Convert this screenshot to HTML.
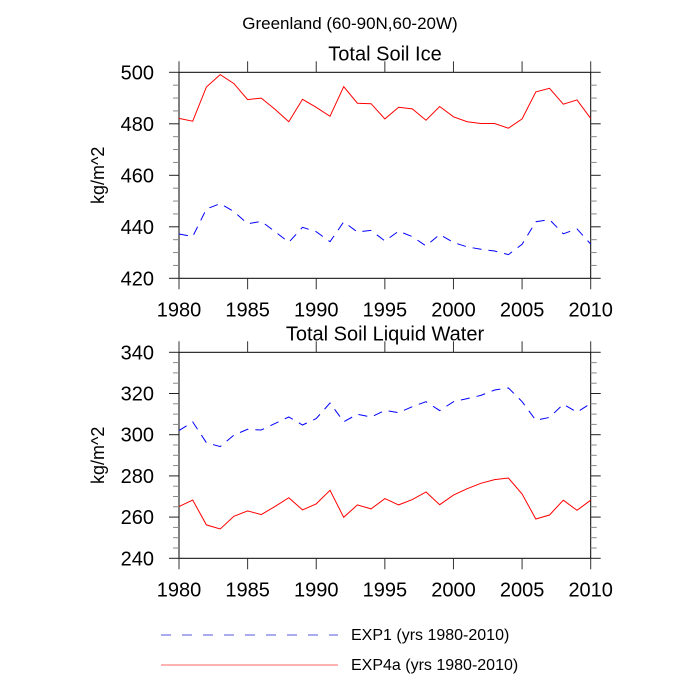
<!DOCTYPE html>
<html><head><meta charset="utf-8"><style>
html,body{margin:0;padding:0;background:#fff;width:700px;height:700px;overflow:hidden}
svg{display:block;font-family:"Liberation Sans",sans-serif}
</style></head><body>
<svg id="chart" width="700" height="700">
<text x="350" y="29" font-size="17" text-anchor="middle">Greenland (60-90N,60-20W)</text>
<g id="p1"></g>
<g id="p2"></g>
<g>
<line x1="161" y1="635" x2="338" y2="635" stroke="#5555dd" stroke-width="1" stroke-dasharray="10,11"/>
<text x="351" y="640" font-size="16">EXP1 (yrs 1980-2010)</text>
<line x1="161" y1="665" x2="338" y2="665" stroke="#ff6666" stroke-width="1"/>
<text x="351" y="670" font-size="16">EXP4a (yrs 1980-2010)</text>
</g>
</svg>
<script>
const years=[1980,1981,1982,1983,1984,1985,1986,1987,1988,1989,1990,1991,1992,1993,1994,1995,1996,1997,1998,1999,2000,2001,2002,2003,2004,2005,2006,2007,2008,2009,2010];
const iceExp4a=[482.1,481,494.3,499.1,495.6,489.4,490,485.6,480.8,489.5,486.4,482.9,494.4,488,487.8,481.9,486.4,485.8,481.4,486.7,482.7,480.8,480.1,480.1,478.3,481.9,492.4,493.8,487.6,489.3,482.1];
const iceExp1=[437.2,436.2,446.9,449,445.9,441.2,442.1,438.1,434,439.8,438.1,434.2,441.9,438,438.6,434.5,438.3,436.2,432.6,437,433.9,432.2,431.3,430.6,429.2,433.2,442,442.8,437.3,439.2,433.3];
const liqExp1=[302,306.2,296.1,294.2,299.8,302.6,302.3,305.5,308.6,304.7,307.8,315.4,306.3,309.9,308.6,311.8,310.7,313.6,316,311.7,316,317.5,319.1,321.7,322.7,316,307,308.4,314.8,310.9,315.2];
const liqExp4a=[265.1,268.3,256.2,254.2,260.4,263,261.2,265.2,269.4,263.5,266.4,273,259.9,265.9,264,269,265.9,268.5,272.2,266,270.7,273.8,276.4,278.2,279,271.2,259.1,261,268.2,263.3,268.2];
const xTicks=[1980,1985,1990,1995,2000,2005,2010];
const iceTicks=[420,440,460,480,500];
const liqTicks=[240,260,280,300,320,340];
const NS="http://www.w3.org/2000/svg";
function mk(parent,tag,attrs){const e=document.createElementNS(NS,tag);for(const k in attrs)e.setAttribute(k,attrs[k]);parent.appendChild(e);return e;}
function panel(g,top,bot,ymin,ymax,yt,title,s1,s2,pfx){
  const L=179,R=590.7;
  const xs=v=>L+(v-1980)/30*(R-L);
  const ys=v=>bot-(v-ymin)/(ymax-ymin)*(bot-top);
  const t=mk(g,'text',{x:385,y:top-12,'font-size':20,'text-anchor':'middle'});t.textContent=title;
  
  
  const f=mk(g,'rect',{x:L,y:top,width:R-L,height:bot-top,fill:'none',stroke:'#000','stroke-width':1});
  
  
  xTicks.forEach(v=>{const x=xs(v);
    mk(g,'line',{x1:x,y1:top,x2:x,y2:top-11,stroke:'#333'});
    mk(g,'line',{x1:x,y1:bot,x2:x,y2:bot+11,stroke:'#333'});
    const l=mk(g,'text',{x:x,y:bot+38,'font-size':20,'text-anchor':'middle'});l.textContent=v;
    
    
  });
  for(let v=ymin;v<=ymax+0.01;v+=5){const y=ys(v);const maj=yt.includes(v);
    const len=maj?10:6;const c=maj?'#222':'#888';
    mk(g,'line',{x1:L,y1:y,x2:L-len,y2:y,stroke:c});
    mk(g,'line',{x1:R,y1:y,x2:R+len,y2:y,stroke:c});
  }
  yt.forEach(v=>{const l=mk(g,'text',{x:154,y:ys(v)+7,'font-size':20,'text-anchor':'end'});l.textContent=v;
    
    });
  const yl=mk(g,'text',{x:0,y:0,'font-size':18,'text-anchor':'middle',transform:`translate(104,${(top+bot)/2}) rotate(-90)`});yl.textContent='kg/m^2';
  
  
  const pts=a=>a.map((v,i)=>xs(years[i]).toFixed(1)+','+ys(v).toFixed(1)).join(' ');
  const b=mk(g,'polyline',{points:pts(s1),fill:'none',stroke:'#0000ff','stroke-width':1,'stroke-dasharray':'9,7'});
  
  
  const r=mk(g,'polyline',{points:pts(s2),fill:'none',stroke:'#ff0000','stroke-width':1});
  
  
}
panel(document.getElementById('p1'),72.3,278.3,420,500,iceTicks,'Total Soil Ice',iceExp1,iceExp4a,'ice');
panel(document.getElementById('p2'),352.3,558.3,240,340,liqTicks,'Total Soil Liquid Water',liqExp1,liqExp4a,'liquid');
</script>
</body></html>
